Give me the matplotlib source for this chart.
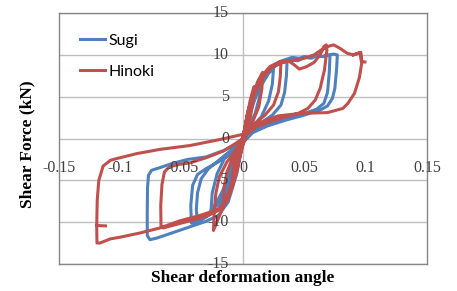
#!/usr/bin/env python3
"""Shear force vs shear deformation angle: Sugi and Hinoki hysteresis loops."""
import numpy as np
import matplotlib
matplotlib.use('Agg')
import matplotlib.pyplot as plt

matplotlib.rcParams.update({
    'font.family': 'serif',
    'font.serif': ['Liberation Serif', 'DejaVu Serif'],
})

BLUE = '#4F81BD'
RED = '#C0504D'
GRID = '#BFBFBF'
BORDER = '#868686'

X_TICKS = [-0.15, -0.1, -0.05, 0, 0.05, 0.1, 0.15]
X_TICK_LABELS = ['-0.15', '-0.1', '-0.05', '0', '0.05', '0.1', '0.15']
Y_TICKS = [-15, -10, -5, 0, 5, 10, 15]
Y_TICK_LABELS = ['-15', '-10', '-5', '0', '5', '10', '15']

# ---- Sugi (blue) cycles ----
SUGI_1_X = [0, 0.002, 0.004, 0.007, 0.0065, 0.004, 0.0, -0.002, -0.004, -0.007, -0.0065, -0.004, 0]
SUGI_1_Y = [0, 1.5, 3.0, 4.8, 3.6, 1.5, 0.2, -1.5, -3.0, -4.8, -3.5, -1.4, 0]

SUGI_2_X = [0, 0.004, 0.008, 0.012, 0.015, 0.014, 0.010, 0.005, 0.0, -0.004, -0.008, -0.012,
            -0.015, -0.014, -0.010, -0.005, 0]
SUGI_2_Y = [0, 2.2, 4.2, 5.8, 7.0, 5.2, 3.0, 1.4, 0.3, -2.2, -4.2, -5.8, -7.0, -5.4, -3.0, -1.3, 0]

SUGI_3_X = [0, 0.005, 0.01, 0.016, 0.021, 0.025, 0.024, 0.021, 0.015, 0.008, 0.002, -0.004,
            -0.01, -0.017, -0.022, -0.026, -0.025, -0.021, -0.015, -0.008, 0]
SUGI_3_Y = [0, 2.6, 4.8, 6.6, 7.8, 8.4, 6.5, 4.5, 2.6, 1.5, 0.5, -1.5, -4.0, -6.4, -7.8, -8.6,
            -6.5, -4.2, -2.4, -1.4, 0]

SUGI_4_X = [0, 0.004, 0.009, 0.015, 0.022, 0.03, 0.036, 0.0355, 0.034, 0.031, 0.024, 0.014,
            0.005, 0, -0.005, -0.012, -0.02, -0.03, -0.037, -0.038, -0.037, -0.034, -0.028,
            -0.018, -0.008, 0]
SUGI_4_Y = [0, 2.5, 4.8, 6.8, 8.2, 9.0, 9.2, 7.5, 5.5, 4.0, 2.8, 1.8, 0.8, -0.3, -2.5, -5.5,
            -7.8, -9.3, -10.0, -8.5, -6.5, -4.8, -3.6, -2.4, -1.2, 0]

SUGI_5_X = [0, 0.004, 0.009, 0.014, 0.02, 0.028, 0.038, 0.045, 0.05, 0.056, 0.06, 0.065,
            0.068, 0.071, 0.0705, 0.069, 0.066, 0.06, 0.05, 0.038, 0.025, 0.013, 0.004, 0,
            -0.005, -0.012, -0.02, -0.03, -0.037, -0.042, -0.0425, -0.041, -0.037, -0.03,
            -0.02, -0.01, 0]
SUGI_5_Y = [0, 2.8, 5.0, 6.6, 7.9, 8.9, 9.4, 9.3, 9.7, 9.6, 9.9, 9.8, 10.0, 9.9, 8.0, 5.5,
            4.2, 3.5, 3.0, 2.5, 1.9, 1.2, 0.4, -0.5, -3.5, -6.5, -8.4, -9.4, -9.9, -10.1,
            -8.0, -5.6, -4.3, -3.6, -2.8, -1.8, 0]

SUGI_6_X = [0, 0.004, 0.01, 0.016, 0.023, 0.03, 0.036, 0.04, 0.046, 0.05, 0.055, 0.06, 0.066,
            0.07, 0.074, 0.077, 0.0765, 0.075, 0.073, 0.069, 0.063, 0.05, 0.035, 0.02, 0.008,
            0, -0.005, -0.012, -0.02, -0.03, -0.04, -0.05, -0.06, -0.07, -0.0758, -0.078,
            -0.078, -0.0778, -0.077, -0.0745, -0.068, -0.058, -0.045, -0.03, -0.015, -0.005, 0]
SUGI_6_Y = [0, 3.0, 5.4, 7.0, 8.3, 9.2, 9.5, 9.7, 9.6, 9.8, 9.7, 9.9, 9.8, 10.0, 10.1, 10.0,
            8.5, 6.0, 4.8, 3.9, 3.4, 2.8, 2.2, 1.5, 0.7, -0.5, -4.2, -7.6, -9.2, -9.9, -10.4,
            -10.9, -11.4, -11.9, -12.1, -11.6, -9.0, -6.0, -4.4, -3.8, -3.5, -3.0, -2.5,
            -2.2, -1.4, -0.6, 0]

# ---- Hinoki (red) cycles ----
HINOKI_1_X = [0, 0.003, 0.006, 0.009, 0.0085, 0.006, 0.002, -0.002, -0.005, -0.009, -0.0085,
              -0.006, -0.002, 0]
HINOKI_1_Y = [0, 2.4, 4.6, 6.2, 4.5, 2.5, 0.8, -1.5, -3.6, -6.0, -4.2, -2.2, -0.6, 0]

HINOKI_2_X = [0, 0.004, 0.008, 0.012, 0.016, 0.0155, 0.013, 0.008, 0.003, -0.002, -0.006,
              -0.011, -0.016, -0.0155, -0.013, -0.008, -0.003, 0]
HINOKI_2_Y = [0, 2.8, 5.0, 6.8, 7.9, 6.0, 3.8, 2.0, 0.8, -1.6, -3.8, -6.3, -8.2, -6.0, -4.0,
              -2.2, -0.8, 0]

HINOKI_3_X = [0, 0.004, 0.009, 0.015, 0.022, 0.028, 0.031, 0.0305, 0.029, 0.025, 0.018, 0.01,
              0.003, -0.002, -0.007, -0.013, -0.019, -0.024, -0.0235, -0.022, -0.019, -0.013,
              -0.006, 0]
HINOKI_3_Y = [0, 2.8, 5.2, 7.0, 8.3, 8.9, 9.0, 7.4, 5.6, 4.0, 2.8, 1.8, 0.6, -1.8, -4.6,
              -7.2, -9.2, -11.0, -9.0, -6.5, -4.5, -2.8, -1.4, 0]

HINOKI_4_X = [0, 0.004, 0.009, 0.015, 0.022, 0.03, 0.037, 0.042, 0.046, 0.052, 0.058, 0.063,
              0.066, 0.068, 0.0685, 0.0665, 0.063, 0.059, 0.053, 0.045, 0.035, 0.022, 0.011,
              0.003, 0, -0.005, -0.012, -0.02, -0.03, -0.042, -0.055, -0.065, -0.0668, -0.067,
              -0.066, -0.064, -0.06, -0.052, -0.043, -0.03, -0.016, -0.006, 0]
HINOKI_4_Y = [0, 3.0, 5.6, 7.4, 8.6, 9.2, 9.3, 8.8, 8.3, 8.6, 9.1, 10.0, 11.0, 11.2, 10.6,
              8.2, 6.0, 4.6, 3.6, 3.0, 2.6, 2.0, 1.4, 0.5, -0.5, -3.8, -7.0, -8.6, -9.3, -9.8,
              -10.3, -10.7, -10.4, -8.0, -5.5, -4.0, -3.4, -3.1, -2.9, -2.3, -1.5, -0.6, 0]

HINOKI_5_X = [0, 0.004, 0.01, 0.016, 0.024, 0.032, 0.04, 0.05, 0.058, 0.064, 0.069, 0.074,
              0.079, 0.085, 0.09, 0.094, 0.096, 0.097, 0.095, 0.091, 0.0856, 0.0815, 0.069,
              0.0465, 0.0285, 0.014, 0.002, 0, -0.005, -0.012, -0.0187, -0.035, -0.0514,
              -0.0677, -0.084, -0.1, -0.108, -0.1166, -0.119, -0.1192, -0.1188, -0.1175,
              -0.114, -0.108, -0.103, -0.0864, -0.0677, -0.0432, -0.0187, 0]
HINOKI_5_Y = [0, 3.2, 6.0, 7.6, 8.6, 9.1, 9.3, 9.6, 10.0, 10.6, 11.0, 11.2, 10.8, 10.2, 10.0,
              10.2, 10.3, 9.1, 7.3, 5.4, 4.2, 3.6, 3.1, 3.0, 2.7, 1.9, 0.6, -0.5, -4.0, -7.2,
              -8.4, -9.2, -9.84, -10.7, -11.3, -11.8, -12.0, -12.5, -12.5, -10.5, -7.4, -5.0,
              -3.3, -2.6, -2.4, -1.8, -1.3, -0.84, -0.12, 0.5]

HINOKI_END_NEG_X = [-0.1192, -0.112]
HINOKI_END_NEG_Y = [-10.4, -10.45]
HINOKI_END_POS_X = [0.09, 0.094, 0.096, 0.0965, 0.0995]
HINOKI_END_POS_Y = [10.0, 10.2, 10.3, 9.2, 9.15]

SUGI_CYCLES = [(SUGI_1_X, SUGI_1_Y), (SUGI_2_X, SUGI_2_Y), (SUGI_3_X, SUGI_3_Y),
               (SUGI_4_X, SUGI_4_Y), (SUGI_5_X, SUGI_5_Y), (SUGI_6_X, SUGI_6_Y)]
HINOKI_CYCLES = [(HINOKI_1_X, HINOKI_1_Y), (HINOKI_2_X, HINOKI_2_Y), (HINOKI_3_X, HINOKI_3_Y),
                 (HINOKI_4_X, HINOKI_4_Y), (HINOKI_5_X, HINOKI_5_Y),
                 (HINOKI_END_NEG_X, HINOKI_END_NEG_Y), (HINOKI_END_POS_X, HINOKI_END_POS_Y)]


def join(cycles):
    """Chain cycles into one line, broken with NaN between pieces."""
    xs, ys = [], []
    for cx, cy in cycles:
        xs += list(cx) + [np.nan]
        ys += list(cy) + [np.nan]
    return np.array(xs), np.array(ys)


def main():
    fig = plt.figure(figsize=(4.57, 2.91), dpi=100)
    ax = fig.add_axes([0.129, 0.093, 0.805, 0.862])

    ax.set_xlim(-0.15, 0.15)
    ax.set_ylim(-15, 15)

    for v in Y_TICKS:
        ax.axhline(v, color=GRID, lw=1.0, zorder=1)
    ax.axvline(0, color=GRID, lw=1.0, zorder=1)
    for s in ax.spines.values():
        s.set_color(BORDER)
        s.set_linewidth(1.0)

    ax.set_xticks([])
    ax.set_yticks([])

    sx, sy = join(SUGI_CYCLES)
    hx, hy = join(HINOKI_CYCLES)
    ax.plot(sx, sy, color=BLUE, lw=2.2, solid_joinstyle='round', label='Sugi', zorder=3)
    ax.plot(hx, hy, color=RED, lw=2.2, solid_joinstyle='round', label='Hinoki', zorder=4)

    # tick labels sit on the zero axes, as in the spreadsheet chart
    for v, lab in zip(Y_TICKS, Y_TICK_LABELS):
        ax.annotate(lab, xy=(0, v), xytext=(-10, 0), textcoords='offset points',
                    ha='right', va='center', fontsize=11.5, color='#404040',
                    annotation_clip=False, zorder=5)
    for v, lab in zip(X_TICKS, X_TICK_LABELS):
        ax.annotate(lab, xy=(v, 0), xytext=(0, -21.5), textcoords='offset points',
                    ha='center', va='center', fontsize=11.5, color='#404040',
                    annotation_clip=False, zorder=5)

    fig.text(0.059, 0.505, 'Shear Force (kN)', rotation=90, ha='center', va='center',
             fontsize=12.5, fontweight='bold')
    fig.text(0.53, 0.043, 'Shear deformation angle', ha='center', va='center',
             fontsize=12.5, fontweight='bold')

    ax.legend(loc='upper left', bbox_to_anchor=(0.035, 0.95), frameon=False,
              prop={'family': 'Lato', 'size': 11.5}, handlelength=1.6,
              handletextpad=0.2, labelspacing=1.05, borderpad=0)

    fig.savefig('out.png', dpi=100)
    plt.close(fig)


if __name__ == '__main__':
    main()
